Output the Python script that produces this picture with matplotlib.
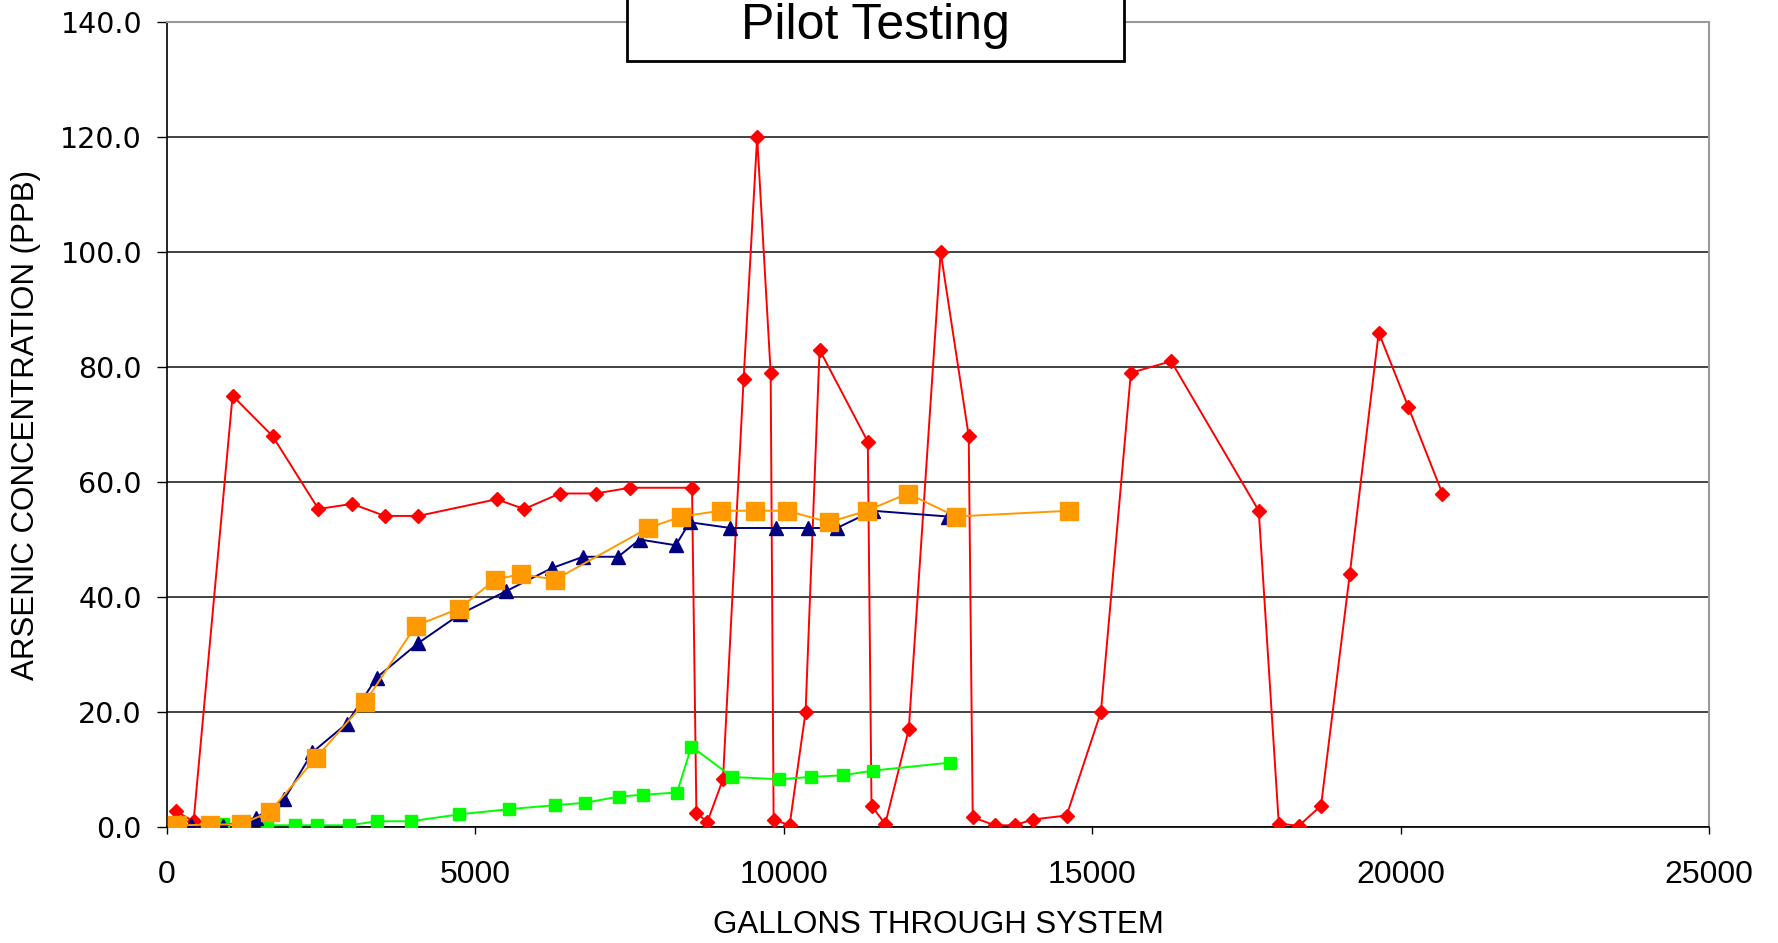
import matplotlib
matplotlib.use('Agg')
import matplotlib.pyplot as plt
from matplotlib.patches import Rectangle

# gallons / arsenic (ppb) per series
red_x = [147, 431, 1063, 1711, 2455, 3001, 3530, 4075, 5344, 5791, 6369, 6952, 7503, 8512,
         8583, 8761, 9014, 9349, 9568, 9787, 9835, 10094, 10353, 10580, 11362, 11422, 11644,
         12026, 12543, 12998, 13063, 13419, 13743, 14035, 14585, 15141, 15627, 16280, 17700,
         18025, 18350, 18710, 19176, 19645, 20127, 20677]
red_y = [2.7, 1.0, 75.0, 68.0, 55.3, 56.2, 54.1, 54.1, 57.0, 55.3, 58.0, 58.0, 59.0, 59.0,
         2.4, 0.9, 8.3, 78.0, 120.0, 79.0, 1.3, 0.3, 20.0, 83.0, 67.0, 3.7, 0.5,
         17.0, 100.0, 68.0, 1.7, 0.3, 0.3, 1.3, 2.0, 20.0, 79.0, 81.0, 55.0,
         0.6, 0.2, 3.7, 44.0, 86.0, 73.0, 58.0]

navy_x = [170, 389, 907, 1446, 1900, 2358, 2915, 3401, 4075, 4750, 5495, 6235, 6747, 7314,
          7665, 8248, 8475, 9134, 9868, 10391, 10862, 11442, 12658]
navy_y = [0.0, 0.3, 0.2, 1.6, 4.8, 13.0, 18.0, 26.0, 32.0, 37.0, 41.0, 45.0, 47.0, 47.0,
          50.0, 49.0, 53.0, 52.0, 52.0, 52.0, 52.0, 55.0, 54.0]

orange_x = [162, 690, 1203, 1662, 2413, 3211, 4032, 4739, 5317, 5738, 6289, 7800, 8340,
            8976, 9538, 10051, 10731, 11346, 12010, 12788, 14628]
orange_y = [0.3, 0.4, 0.5, 2.6, 12.0, 21.7, 35.0, 38.0, 43.0, 44.0, 43.0, 52.0, 54.0,
            55.0, 55.0, 55.0, 53.0, 55.0, 58.0, 54.0, 55.0]

green_x = [172, 900, 1629, 2080, 2434, 2952, 3406, 3954, 4739, 5548, 6293, 6774, 7328,
           7718, 8269, 8502, 9166, 9921, 10437, 10957, 11443, 12697]
green_y = [0.3, 0.5, 0.3, 0.3, 0.3, 0.3, 1.0, 1.0, 2.2, 3.1, 3.8, 4.2, 5.3,
           5.6, 6.0, 14.0, 8.7, 8.3, 8.7, 9.0, 9.8, 11.2]

W, H = 1778, 943
fig = plt.figure(figsize=(W / 100, H / 100), dpi=100)
ax = fig.add_axes([167 / W, 1 - 827 / H, (1709 - 167) / W, (827 - 22) / H])

ax.plot(red_x, red_y, color='#ff0000', lw=1.4, marker='D', ms=7.5, zorder=3)
ax.plot(green_x, green_y, color='#00ff00', lw=1.4, marker='s', ms=8.5, zorder=4)
ax.plot(navy_x, navy_y, color='#000080', lw=1.4, marker='^', ms=10, zorder=5)
ax.plot(orange_x, orange_y, color='#ff9900', lw=1.4, marker='s', ms=13.5, zorder=6)

ax.set_xlim(0, 25000)
ax.set_ylim(0, 140)
ax.set_xticks(range(0, 25001, 5000))
ax.set_yticks(range(0, 141, 20))
ax.set_yticklabels(['%.1f' % v for v in range(0, 141, 20)], family='DejaVu Sans', fontsize=20.5)
ax.set_xticklabels([str(v) for v in range(0, 25001, 5000)], family='Liberation Sans', fontsize=23)
ax.tick_params(axis='y', direction='out', length=7, width=1, pad=11)
ax.tick_params(axis='x', direction='out', length=5, width=1, pad=19)

ax.grid(axis='y', color='#222222', lw=1.2, zorder=1)
ax.set_axisbelow(True)
for s in ['top', 'right']:
    ax.spines[s].set_color('#999999')
    ax.spines[s].set_linewidth(1.5)
for s in ['left', 'bottom']:
    ax.spines[s].set_color('black')
    ax.spines[s].set_linewidth(1.2)

ax.set_xlabel('GALLONS THROUGH SYSTEM', family='Liberation Sans', fontsize=22.5, labelpad=14)
ax.set_ylabel('ARSENIC CONCENTRATION (PPB)', family='Liberation Sans', fontsize=22.5, labelpad=14)

# title box, its top runs past the figure edge
fig.add_artist(Rectangle((627 / W, 1 - 61 / H), (1124 - 627) / W, 100 / H,
                         transform=fig.transFigure, facecolor='white', edgecolor='black',
                         lw=2, zorder=5))
fig.text(875.5 / W, 1 - 3 / H, 'Pilot Testing', family='Liberation Sans', fontsize=36,
         ha='center', va='top', zorder=6)

fig.savefig('out.png', dpi=100)
